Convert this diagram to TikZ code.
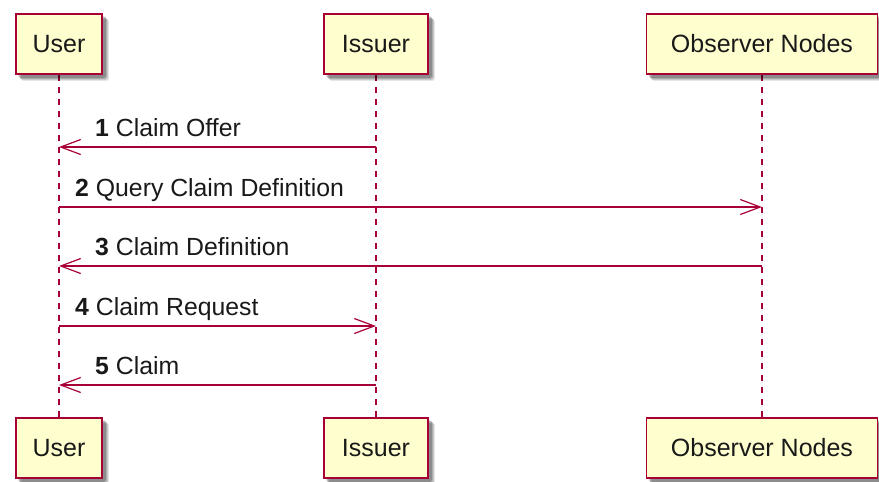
\documentclass[tikz,border=0pt]{standalone}
\usepackage{fontspec}
\setmainfont{Liberation Sans}
\usetikzlibrary{arrows.meta}
\definecolor{seqline}{HTML}{A80036}
\definecolor{seqfill}{HTML}{FEFECE}
\tikzset{
  actor/.style={draw=seqline, fill=seqfill, line width=1.5pt, minimum height=60pt,
    inner xsep=15pt, inner ysep=0pt, font=\fontsize{25}{30}\selectfont, text=black!90},
  lifeline/.style={draw=seqline, line width=1.1pt, dash pattern=on 6pt off 6pt},
  msg/.style={draw=seqline, line width=1.4pt,
    -{Straight Barb[length=20pt, width=15pt, line width=1.2pt]}},
  msglabel/.style={font=\fontsize{24.8}{30}\selectfont, text=black!90, inner sep=0pt, anchor=base west},
}
% soft drop shadow under a box
\newcommand{\shadowbox}[1]{%
  \foreach \o/\a in {6/0.10,5/0.12,4/0.15,3/0.18}{%
    \fill[black, opacity=\a, rounded corners=2pt]
      ([xshift=\o pt, yshift=-\o pt]#1.south west) rectangle ([xshift=\o pt, yshift=-\o pt]#1.north east);}%
}
\begin{document}
\begin{tikzpicture}[x=1pt, y=-1pt]
\useasboundingbox (0,0) rectangle (879,482);

% participant boxes, top row and bottom row
\node[actor, minimum width=86pt] (userT) at (59,44) {User};
\node[actor, minimum width=104pt] (issT) at (376,44) {Issuer};
\node[actor, minimum width=231pt] (obsT) at (762,44) {Observer Nodes};
\node[actor, minimum width=86pt] (userB) at (59,448) {User};
\node[actor, minimum width=104pt] (issB) at (376,448) {Issuer};
\node[actor, minimum width=231pt] (obsB) at (762,448) {Observer Nodes};

% lifelines
\draw[lifeline] (userT.south) -- (userB.north);
\draw[lifeline] (issT.south) -- (issB.north);
\draw[lifeline] (obsT.south) -- (obsB.north);

% shadows under the boxes, then the boxes again on top
\foreach \n in {userT,issT,obsT,userB,issB,obsB}{\shadowbox{\n}}
\node[actor, minimum width=86pt] at (59,44) {User};
\node[actor, minimum width=104pt] at (376,44) {Issuer};
\node[actor, minimum width=231pt] at (762,44) {Observer Nodes};
\node[actor, minimum width=86pt] at (59,448) {User};
\node[actor, minimum width=104pt] at (376,448) {Issuer};
\node[actor, minimum width=231pt] at (762,448) {Observer Nodes};

% message anchor points on the lifelines
\coordinate (u1) at (userT.south |- 0,147);
\coordinate (i1) at (issT.south |- 0,147);
\coordinate (u2) at (userT.south |- 0,207);
\coordinate (o2) at (obsT.south |- 0,207);
\coordinate (u3) at (userT.south |- 0,266);
\coordinate (o3) at (obsT.south |- 0,266);
\coordinate (u4) at (userT.south |- 0,326);
\coordinate (i4) at (issT.south |- 0,326);
\coordinate (u5) at (userT.south |- 0,385);
\coordinate (i5) at (issT.south |- 0,385);

% messages
\draw[msg] (i1) -- (u1);
\draw[msg] (u2) -- (o2);
\draw[msg] (o3) -- (u3);
\draw[msg] (u4) -- (i4);
\draw[msg] (i5) -- (u5);

% message labels
\node[msglabel] (l1) at ([xshift=36pt, yshift=11pt]u1) {\textbf{1} Claim Offer};
\node[msglabel] (l2) at ([xshift=16pt, yshift=11pt]u2) {\textbf{2} Query Claim Definition};
\node[msglabel] (l3) at ([xshift=36pt, yshift=11pt]u3) {\textbf{3} Claim Definition};
\node[msglabel] (l4) at ([xshift=16pt, yshift=11pt]u4) {\textbf{4} Claim Request};
\node[msglabel] (l5) at ([xshift=36pt, yshift=11pt]u5) {\textbf{5} Claim};
\end{tikzpicture}
\end{document}
